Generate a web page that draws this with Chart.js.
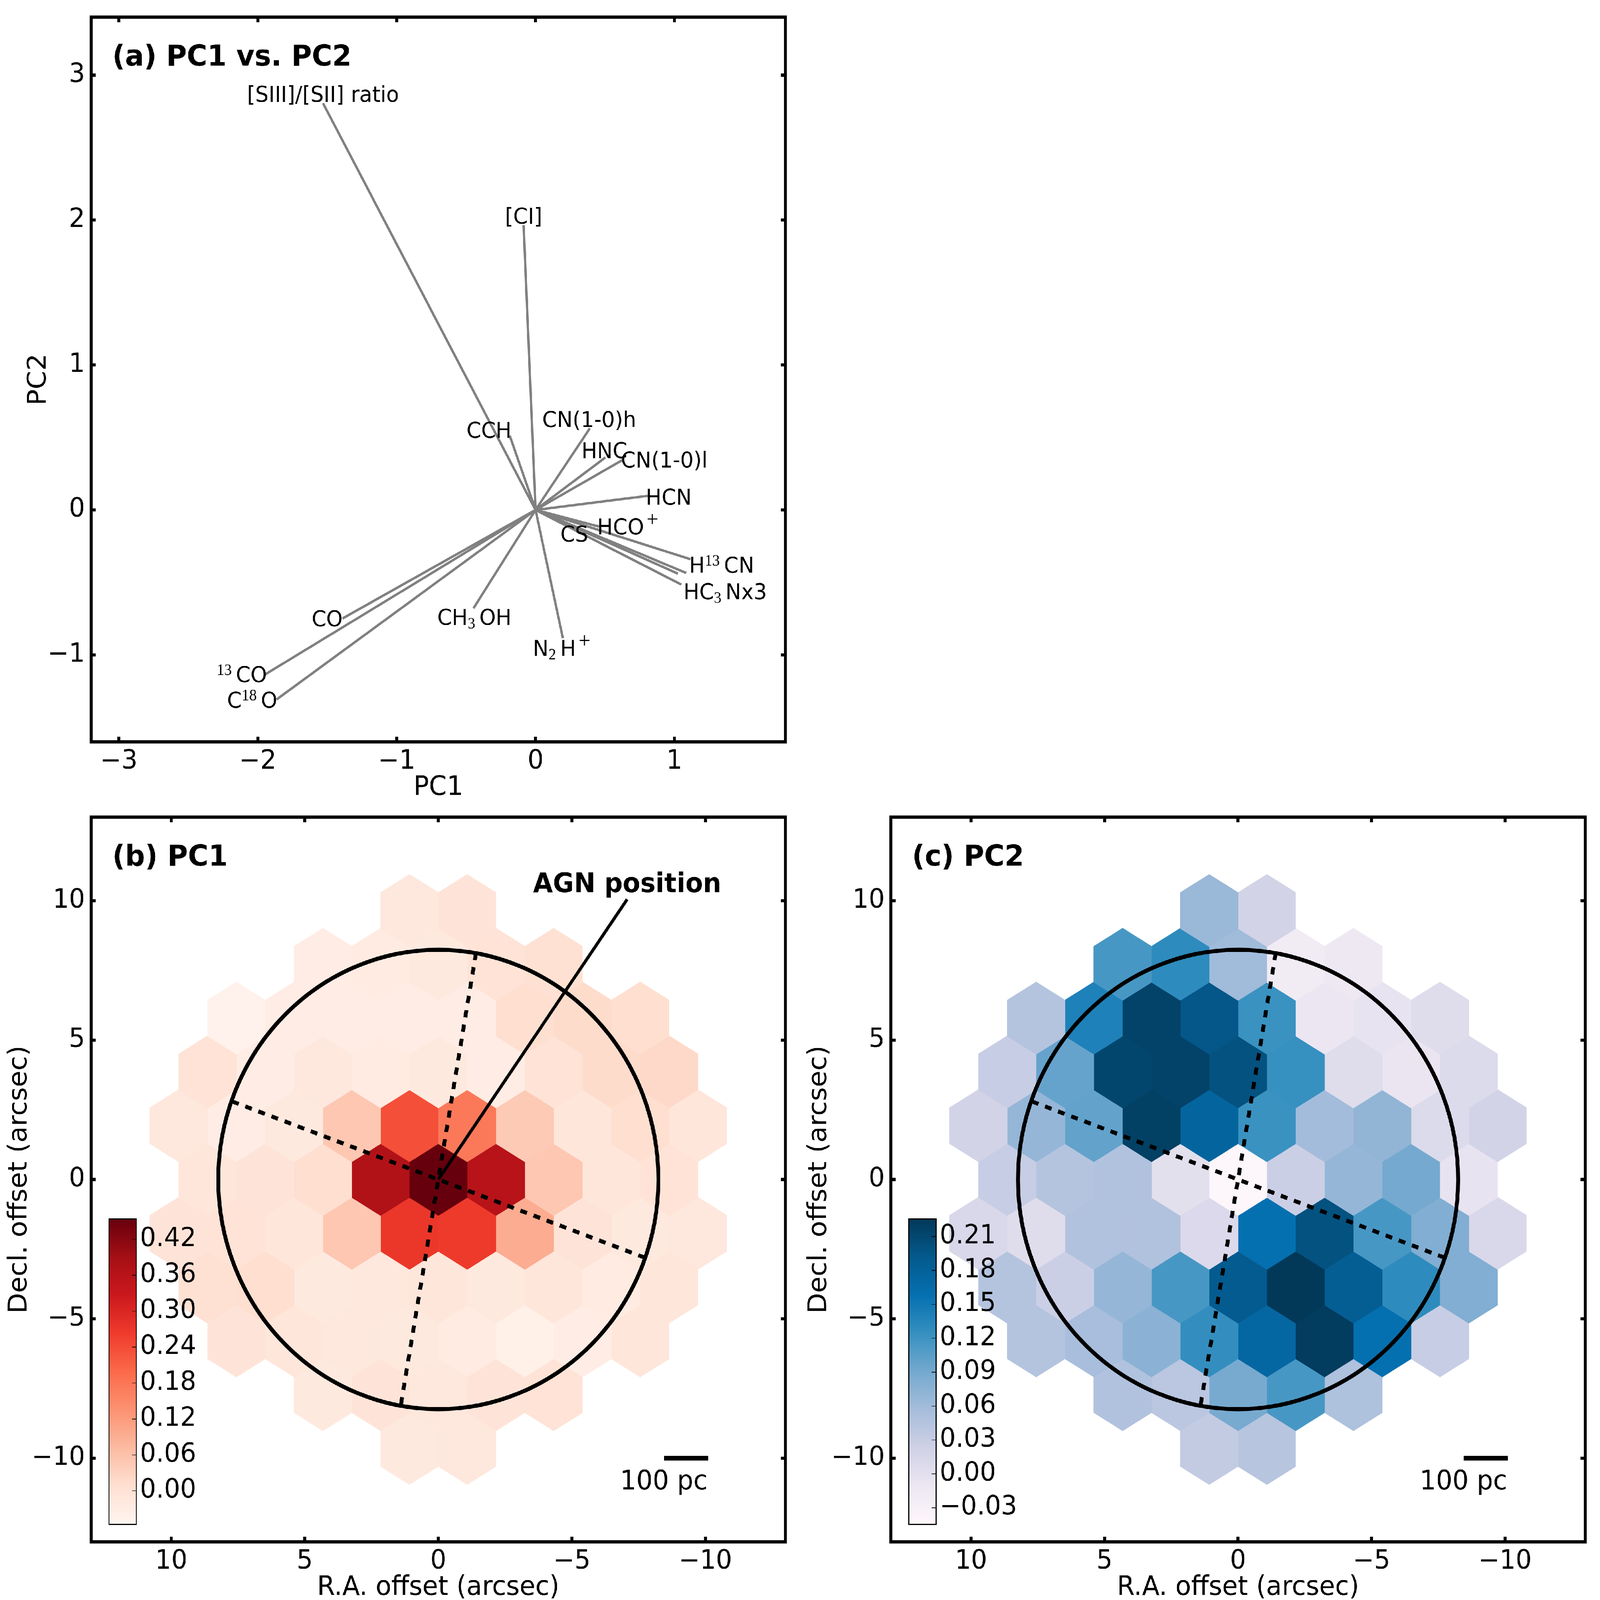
<!DOCTYPE html>
<html>
<head>
<meta charset="utf-8">
<script src="https://cdn.jsdelivr.net/npm/chart.js@4/dist/chart.umd.min.js"></script>
<style>
  html, body { margin: 0; padding: 0; background: #fff; overflow: hidden; }
  #page { position: absolute; left: 0; top: 0; width: 5740px; height: 5500px; background: #fff; overflow: hidden; transform-origin: 0 0; }
  canvas { position: absolute; }
</style>
</head>
<body>
<div id="page"></div>
<script>
// (a) loadings
const loadingNames = ['[SIII]/[SII] ratio', '[CI]', 'CCH', 'CN(1-0)h', 'HNC', 'CN(1-0)l', 'HCN', 'HCO^{+}', 'CS',
  'H^{13}CN', '', 'HC_{3}Nx3', 'CH_{3}OH', 'N_{2}H^{+}', 'CO', '^{13}CO', 'C^{18}O'];
const loadingPC1 = [-1.53, -0.086, -0.186, 0.391, 0.503, 0.633, 0.808, 0.457, 1.026, 1.115, 1.085, 1.05, -0.447, 0.197, -1.39, -1.947, -1.865];
const loadingPC2 = [2.806, 1.964, 0.513, 0.563, 0.362, 0.348, 0.097, -0.115, -0.44, -0.34, -0.435, -0.515, -0.679, -0.885, -0.749, -1.135, -1.308];
const labelPC1 = [-1.53, -0.086, -0.335, 0.387, 0.495, 0.927, 0.96, 0.67, 0.279, 1.34, 0, 1.366, -0.44, 0.194, -1.5, -2.115, -2.04];
const labelPC2 = [2.87, 2.03, 0.552, 0.627, 0.412, 0.348, 0.09, -0.115, -0.165, -0.38, 0, -0.563, -0.738, -0.953, -0.749, -1.135, -1.31];
const pcXTicks = [-3, -2, -1, 0, 1];
const pcYTicks = [-1, 0, 1, 2, 3];

// (b), (c) hexagon maps, rows top to bottom, each row left to right on the page
const rowDecl = [9.65, 7.72, 5.79, 3.86, 1.93, 0, -1.93, -3.86, -5.79, -7.72, -9.65];
const pc1Values = [
  [-0.015, -0.005],
  [-0.03, -0.025, -0.02, 0.0, 0.005],
  [-0.045, -0.03, -0.03, -0.033, -0.03, 0.01, 0.015, 0.01],
  [0.0, -0.03, -0.015, -0.025, -0.02, -0.03, 0.0, 0.015, 0.02],
  [-0.015, -0.03, -0.02, 0.05, 0.235, 0.175, 0.045, -0.01, 0.01, -0.01],
  [-0.01, -0.005, 0.01, 0.37, 0.454, 0.36, 0.05, -0.01, 0.0],
  [-0.005, 0.0, -0.01, 0.05, 0.27, 0.265, 0.095, -0.005, -0.02, -0.015],
  [0.005, 0.01, -0.02, -0.015, -0.01, -0.02, -0.01, -0.025, -0.01],
  [-0.005, -0.01, -0.015, -0.02, -0.025, -0.04, -0.03, -0.01],
  [-0.02, -0.005, -0.015, -0.005, 0.0],
  [-0.02, -0.015]
];
const pc2Values = [
  [0.065, 0.02],
  [0.115, 0.13, 0.06, -0.02, -0.012],
  [0.045, 0.14, 0.215, 0.195, 0.122, -0.01, -0.005, 0.005],
  [0.03, 0.098, 0.212, 0.215, 0.2, 0.124, 0.005, -0.008, 0.008],
  [0.02, 0.068, 0.1, 0.218, 0.175, 0.122, 0.058, 0.07, 0.008, 0.02],
  [0.03, 0.045, 0.048, 0.0, -0.042, 0.027, 0.068, 0.09, -0.005],
  [0.012, 0.005, 0.048, 0.048, 0.01, 0.158, 0.2, 0.115, 0.082, 0.012],
  [0.045, 0.027, 0.068, 0.115, 0.19, 0.225, 0.185, 0.13, 0.082],
  [0.045, 0.055, 0.075, 0.126, 0.172, 0.222, 0.158, 0.03],
  [0.048, 0.04, 0.088, 0.115, 0.05],
  [0.033, 0.043]
];
const offsetTicks = [-10, -5, 0, 5, 10];
const pc1BarTicks = [0.00, 0.06, 0.12, 0.18, 0.24, 0.30, 0.36, 0.42];
const pc2BarTicks = [-0.03, 0.00, 0.03, 0.06, 0.09, 0.12, 0.15, 0.18, 0.21];

// overlays in arcsec
const majorAxisRA = [-1.41, 1.41], majorAxisDec = [8.13, -8.13];
const minorAxisRA = [7.72, -7.72], minorAxisDec = [2.8, -2.8];
const agnLineRA = [-7.07, 0], agnLineDec = [10.05, 0];
const scaleBarRA = [-8.45, -10.1], scaleBarDec = [-10, -10];
const ringRadius = 8.24;

const Reds = ['#fff5f0', '#fee0d2', '#fcbba1', '#fc9272', '#fb6a4a', '#ef3b2c', '#cb181d', '#a50f15', '#67000d'];
const PuBu = ['#fff7fb', '#ece7f2', '#d0d1e6', '#a6bddb', '#74a9cf', '#3690c0', '#0570b0', '#045a8d', '#023858'];

const FONT = "'DejaVu Sans'";
const SIZE = 2491;
const MARGIN = { left: 327, top: 50, right: 40, bottom: 214 };
const page = document.getElementById('page');

// the window can be smaller than the figure, so fit the whole figure into it
page.style.transform = `scale(${window.innerWidth / 5740}, ${window.innerHeight / 5500})`;

Chart.defaults.color = '#000';
Chart.defaults.font.family = FONT;

function newCanvas(left, top, w, h) {
    const c = document.createElement('canvas');
    c.width = w;
    c.height = h;
    c.style.left = left + 'px';
    c.style.top = top + 'px';
    c.style.width = w + 'px';
    c.style.height = h + 'px';
    page.appendChild(c);
    return c;
}

function cmapColor(stops, t) {
    t = Math.min(1, Math.max(0, t)) * (stops.length - 1);
    const i = Math.min(stops.length - 2, Math.floor(t));
    const f = t - i;
    const rgb = s => [1, 3, 5].map(k => parseInt(s.substr(k, 2), 16));
    const a = rgb(stops[i]), b = rgb(stops[i + 1]);
    const m = a.map((v, k) => Math.round(v + (b[k] - v) * f));
    return `rgb(${m[0]},${m[1]},${m[2]})`;
}

function minusSign(v) {
    return String(v).replace('-', '\u2212');
}

// stop the layout from reserving room for labels that sit at the scale ends
function noScalePadding(s) {
    s.paddingTop = 0;
    s.paddingBottom = 0;
    s.paddingLeft = 0;
    s.paddingRight = 0;
}

// inward ticks on all four sides, plus the frame
const framePlugin = {
    id: 'frame',
    afterDraw(chart) {
        const { ctx, chartArea: a, scales } = chart;
        ctx.save();
        ctx.strokeStyle = '#000';
        ctx.lineWidth = 10.7;
        ctx.beginPath();
        scales.x.ticks.forEach(t => {
            const x = scales.x.getPixelForValue(t.value);
            ctx.moveTo(x, a.bottom); ctx.lineTo(x, a.bottom - 17);
            ctx.moveTo(x, a.top); ctx.lineTo(x, a.top + 17);
        });
        scales.y.ticks.forEach(t => {
            const y = scales.y.getPixelForValue(t.value);
            ctx.moveTo(a.left, y); ctx.lineTo(a.left + 17, y);
            ctx.moveTo(a.right, y); ctx.lineTo(a.right - 17, y);
        });
        ctx.stroke();
        ctx.strokeRect(a.left, a.top, a.width, a.height);
        ctx.restore();
    }
};

// text in data coordinates; ^{..} and _{..} are raised and lowered in a serif face like mathtext
function drawMarkup(ctx, text, cx, cy, size) {
    const parts = text.split(/(\^\{[^}]*\}|_\{[^}]*\})/).filter(p => p);
    const runs = parts.map(p => {
        const script = p[0] === '^' || p[0] === '_';
        const str = script ? p.slice(2, -1) : p;
        const plus = str === '+';
        ctx.font = plus ? `${size}px 'Liberation Serif'`
            : script ? `${Math.round(size * 0.72)}px 'Liberation Serif'` : `${size}px ${FONT}`;
        return { str, plus, kind: script ? p[0] : '', font: ctx.font,
            w: ctx.measureText(str).width + (script ? size * 0.2 : 0) };
    });
    const total = runs.reduce((s, r) => s + r.w, 0);
    let x = cx - total / 2;
    ctx.textAlign = 'left';
    ctx.textBaseline = 'alphabetic';
    const base = cy + size * 0.36;
    runs.forEach(r => {
        ctx.font = r.font;
        let y = base;
        if (r.plus) {
            x += size * 0.12;
            y = base - size * 0.38;
        } else if (r.kind === '^') {
            y = base - size * 0.34;
        } else if (r.kind === '_') {
            y = base + size * 0.16;
        }
        ctx.fillText(r.str, x, y);
        x += r.w;
    });
}

const loadingLabelPlugin = {
    id: 'loadingLabels',
    afterDatasetsDraw(chart) {
        const { ctx, scales } = chart;
        ctx.save();
        ctx.fillStyle = '#000';
        loadingNames.forEach((name, i) => {
            if (!name) return;
            drawMarkup(ctx, name, scales.x.getPixelForValue(labelPC1[i]), scales.y.getPixelForValue(labelPC2[i]), 75);
        });
        ctx.restore();
    }
};

function panelTextPlugin(title, withAgn) {
    return {
        id: 'panelText',
        afterDatasetsDraw(chart) {
            const { ctx, scales, chartArea: a } = chart;
            ctx.save();
            ctx.fillStyle = '#000';
            ctx.textBaseline = 'middle';
            ctx.textAlign = 'left';
            ctx.font = `bold 100px ${FONT}`;
            ctx.fillText(title, a.left + 76, a.top + 141);
            if (withAgn) {
                ctx.textAlign = 'center';
                ctx.font = `bold 92px ${FONT}`;
                ctx.fillText('AGN position', scales.x.getPixelForValue(-7.07), scales.y.getPixelForValue(10.56));
            }
            if (scales.x.options.reverse) {
                ctx.textAlign = 'center';
                ctx.font = `92px ${FONT}`;
                ctx.fillText('100 pc', scales.x.getPixelForValue(-8.44), scales.y.getPixelForValue(-10.87));
            }
            ctx.restore();
        }
    };
}

const ringPlugin = {
    id: 'ring',
    afterDatasetsDraw(chart) {
        const { ctx, scales } = chart;
        const cx = scales.x.getPixelForValue(0), cy = scales.y.getPixelForValue(0);
        const r = Math.abs(scales.x.getPixelForValue(ringRadius) - cx);
        ctx.save();
        ctx.strokeStyle = '#000';
        ctx.lineWidth = 14;
        ctx.beginPath();
        ctx.arc(cx, cy, r, 0, Math.PI * 2);
        ctx.stroke();
        ctx.restore();
    }
};

function axes(xTicks, yTicks, xr, yr, xTitle, yTitle, yTitlePad, reverse) {
    const tickFont = { family: FONT, size: 90.7 };
    return {
        x: {
            type: 'linear', min: xr[0], max: xr[1], reverse: reverse,
            border: { display: false },
            grid: { display: false, drawTicks: false },
            afterBuildTicks: s => { s.ticks = xTicks.map(v => ({ value: v })); },
            afterFit: s => { s.height = MARGIN.bottom; noScalePadding(s); },
            ticks: { font: tickFont, padding: 14, maxRotation: 0, autoSkip: false, callback: minusSign },
            title: { display: true, text: xTitle, font: { family: FONT, size: 92 }, padding: { top: 0, bottom: 0 } }
        },
        y: {
            type: 'linear', min: yr[0], max: yr[1],
            border: { display: false },
            grid: { display: false, drawTicks: false },
            afterBuildTicks: s => { s.ticks = yTicks.map(v => ({ value: v })); },
            afterFit: s => { s.width = MARGIN.left; noScalePadding(s); },
            ticks: { font: tickFont, padding: 22, autoSkip: false, callback: minusSign },
            title: { display: true, text: yTitle, font: { family: FONT, size: 92 }, padding: { top: yTitlePad, bottom: 0 } }
        }
    };
}

function baseOptions(scales) {
    return {
        responsive: false,
        animation: false,
        devicePixelRatio: 1,
        layout: { padding: { left: 0, top: MARGIN.top, right: MARGIN.right, bottom: 0 } },
        plugins: { legend: { display: false }, tooltip: { enabled: false } },
        scales: scales
    };
}

function segment(xs, ys, color, width, dash) {
    return {
        type: 'line',
        data: xs.map((x, i) => ({ x: x, y: ys[i] })),
        borderColor: color,
        borderWidth: width,
        borderDash: dash || [],
        borderCapStyle: 'butt',
        pointRadius: 0,
        fill: false,
        tension: 0,
        order: 1
    };
}

// one filled line dataset per hexagon
function hexDatasets(values, stops, vmin, vmax) {
    const sets = [];
    values.forEach((row, r) => {
        row.forEach((v, i) => {
            const cx = ((row.length - 1) / 2 - i) * 2.16;
            const cy = rowDecl[r];
            const color = cmapColor(stops, (v - vmin) / (vmax - vmin));
            const hw = 1.08, hh = 1.30, sh = 0.65;
            sets.push({
                type: 'line',
                data: [[0, hh], [hw, sh], [hw, -sh], [0, -hh], [-hw, -sh], [-hw, sh], [0, hh]]
                    .map(p => ({ x: cx + p[0], y: cy + p[1] })),
                backgroundColor: color,
                borderColor: color,
                borderWidth: 1,
                pointRadius: 0,
                fill: 'shape',
                tension: 0,
                order: 10
            });
        });
    });
    return sets;
}

function colorbar(panelLeft, stops, vmin, vmax, ticks) {
    const left = panelLeft + 64, top = 4190, w = 98, h = 1050;
    const canvas = newCanvas(left - 6, top - 6, w + 346, h + 12);
    new Chart(canvas, {
        type: 'scatter',
        data: { datasets: [] },
        options: {
            responsive: false,
            animation: false,
            devicePixelRatio: 1,
            layout: { padding: { left: 6, top: 6, right: 0, bottom: 6 } },
            plugins: { legend: { display: false }, tooltip: { enabled: false } },
            scales: {
                x: { display: false, min: 0, max: 1 },
                y: {
                    type: 'linear', position: 'right', min: vmin, max: vmax,
                    border: { display: false },
                    grid: { display: false, drawTicks: false },
                    afterBuildTicks: s => { s.ticks = ticks.map(v => ({ value: v })); },
                    afterFit: s => { s.width = 340; noScalePadding(s); },
                    ticks: {
                        font: { family: FONT, size: 90.7 }, padding: 13, autoSkip: false,
                        callback: v => minusSign(v.toFixed(2))
                    }
                }
            }
        },
        plugins: [{
            id: 'barFill',
            beforeDraw(chart) {
                const { ctx, chartArea: a, scales } = chart;
                const g = ctx.createLinearGradient(0, a.bottom, 0, a.top);
                stops.forEach((s, i) => g.addColorStop(i / (stops.length - 1), s));
                ctx.fillStyle = g;
                ctx.fillRect(a.left, a.top, a.width, a.height);
                ctx.strokeStyle = '#000';
                ctx.lineWidth = 2;
                ctx.beginPath();
                scales.y.ticks.forEach(t => {
                    const y = scales.y.getPixelForValue(t.value);
                    ctx.moveTo(a.right, y);
                    ctx.lineTo(a.right - 16, y);
                });
                ctx.stroke();
                ctx.lineWidth = 4;
                ctx.strokeRect(a.left, a.top, a.width, a.height);
            }
        }]
    });
}

function panelCanvas(left, top) {
    return newCanvas(left - MARGIN.left, top - MARGIN.top, MARGIN.left + SIZE + MARGIN.right, MARGIN.top + SIZE + MARGIN.bottom);
}

// (a) PC1 vs. PC2
new Chart(panelCanvas(327, 59), {
    type: 'line',
    data: {
        datasets: loadingPC1.map((x, i) => segment([0, x], [0, loadingPC2[i]], '#808080', 8.5))
    },
    options: baseOptions(axes(pcXTicks, pcYTicks, [-3.2, 1.8], [-1.6, 3.4], 'PC1', 'PC2', 85, false)),
    plugins: [loadingLabelPlugin, panelTextPlugin('(a) PC1 vs. PC2', false), framePlugin]
});

function mapPanel(left, values, stops, vmin, vmax, title, withAgn, barTicks) {
    const datasets = hexDatasets(values, stops, vmin, vmax);
    datasets.unshift(
        segment(majorAxisRA, majorAxisDec, '#000', 14, [25, 25]),
        segment(minorAxisRA, minorAxisDec, '#000', 14, [25, 25]),
        segment(scaleBarRA, scaleBarDec, '#000', 15)
    );
    if (withAgn) datasets.unshift(segment(agnLineRA, agnLineDec, '#000', 11));
    new Chart(panelCanvas(left, 2809), {
        type: 'line',
        data: { datasets: datasets },
        options: baseOptions(axes(offsetTicks, offsetTicks, [-13, 13], [-13, 13],
            'R.A. offset (arcsec)', 'Decl. offset (arcsec)', 16, true)),
        plugins: [ringPlugin, panelTextPlugin(title, withAgn), framePlugin]
    });
    colorbar(left, stops, vmin, vmax, barTicks);
}

mapPanel(327, pc1Values, Reds, -0.056, 0.454, '(b) PC1', true, pc1BarTicks);
mapPanel(3196, pc2Values, PuBu, -0.0447, 0.2256, '(c) PC2', false, pc2BarTicks);
</script>
</body>
</html>
